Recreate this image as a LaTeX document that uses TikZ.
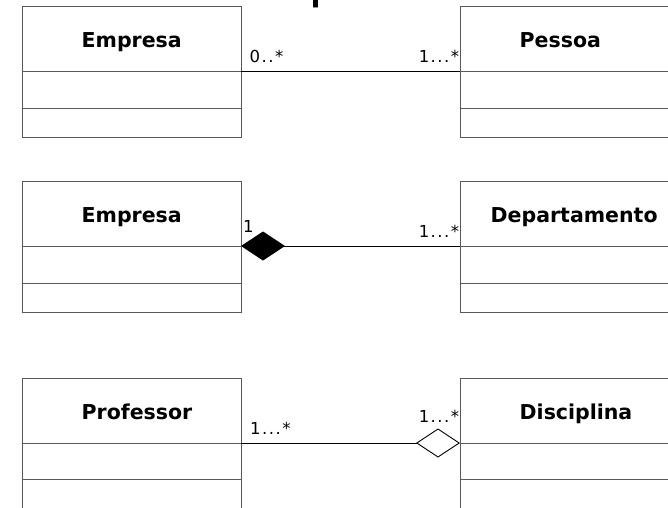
\documentclass[tikz,border=0pt]{standalone}
\usepackage{fontspec}
\setmainfont{DejaVu Sans}
\usetikzlibrary{arrows.meta}
\begin{document}
\begin{tikzpicture}[x=1pt,y=-1pt,
  cls/.style={draw=black!65, line width=0.9pt, inner sep=0pt, outer sep=0pt,
    anchor=north west},
  lw/.style={cls, minimum width=219pt},
  rw/.style={cls, minimum width=240pt},
  hd/.style={minimum height=65pt},
  at1/.style={minimum height=37pt},
  op1/.style={minimum height=29pt},
  clsname/.style={anchor=base west, inner sep=0pt,
    font=\fontsize{20.5}{24}\selectfont\bfseries},
  mult/.style={inner sep=0pt,
    font=\fontsize{16.5}{19}\selectfont\addfontfeature{LetterSpace=9}},
  conn/.style={draw=black, line width=0.9pt},
  fulldiamond/.tip={Diamond[length=44pt, width=29pt, fill=black]},
  opendiamond/.tip={Diamond[open, length=44pt, width=29pt]}]
\clip (0,0) rectangle (668,507);
\fill[white] (0,0) rectangle (668,507);

% heading, mostly above the page
\node[anchor=base west, inner sep=0pt, font=\fontsize{55}{60}\selectfont]
  (ttl) at (307.8,-3.4) {p};

% --- Empresa -- Pessoa (association)
\node[lw, hd]  (emp1)  at (22,6) {};
\node[lw, at1] (emp1a) at (emp1.south west) {};
\node[lw, op1] (emp1o) at (emp1a.south west) {};
\node[clsname] (emp1n) at (81.5,47) {Empresa};

\node[rw, hd]  (pes)  at (460,6) {};
\node[rw, at1] (pesa) at (pes.south west) {};
\node[rw, op1] (peso) at (pesa.south west) {};
\node[clsname] (pesn) at (519.5,47) {Pessoa};

\draw[conn] (emp1.south east) -- (pes.south west);
\node[mult, anchor=base west] (m1) at (249.5,62) {0..*};
\node[mult, anchor=base east] (m2) at (459.4,62) {1...*};

% --- Empresa <>-- Departamento (composition)
\node[lw, hd]  (emp2)  at (22,181) {};
\node[lw, at1] (emp2a) at (emp2.south west) {};
\node[lw, op1] (emp2o) at (emp2a.south west) {};
\node[clsname] (emp2n) at (81.5,222) {Empresa};

\node[rw, hd]  (dep)  at (460,181) {};
\node[rw, at1] (depa) at (dep.south west) {};
\node[rw, op1] (depo) at (depa.south west) {};
\node[clsname] (depn) at (490.5,222) {Departamento};

\draw[conn, -fulldiamond] (dep.south west) -- (emp2.south east);
\node[mult, anchor=base west] (m3) at (243,232) {1};
\node[mult, anchor=base east] (m4) at (459.4,237) {1...*};

% --- Professor --<> Disciplina (aggregation)
\node[lw, hd]  (prof)  at (22,378) {};
\node[lw, minimum height=36pt] (profa) at (prof.south west) {};
\node[lw, op1] (profo) at (profa.south west) {};
\node[clsname] (profn) at (81.5,419) {Professor};

\node[rw, hd]  (disc)  at (460,378) {};
\node[rw, minimum height=36pt] (disca) at (disc.south west) {};
\node[rw, op1] (disco) at (disca.south west) {};
\node[clsname] (discn) at (519.5,419) {Disciplina};

\draw[conn, -opendiamond] (prof.south east) -- (disc.south west);
\node[mult, anchor=base west] (m5) at (250,434) {1...*};
\node[mult, anchor=base east] (m6) at (459.4,422) {1...*};
\end{tikzpicture}
\end{document}
